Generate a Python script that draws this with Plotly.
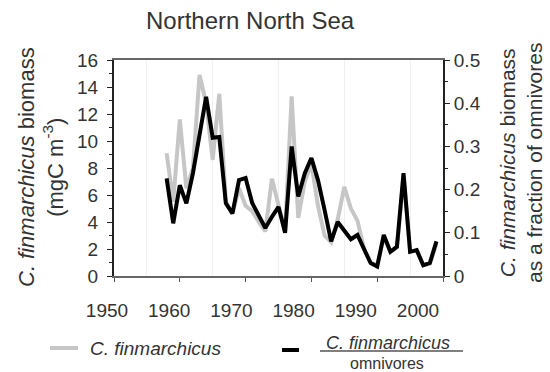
import plotly.graph_objects as go

years = list(range(1958, 2000))
biomass = [9.1, 5.5, 11.6, 6.5, 8.0, 14.9, 12.8, 8.6, 13.5, 5.5,
           4.6, 6.5, 5.2, 4.8, 4.0, 3.3, 7.2, 5.3, 3.3, 13.3,
           4.3, 7.0, 8.3, 5.2, 3.0, 2.5, 4.2, 6.6, 5.0, 4.1,
           2.0, 1.0, 0.8, 2.9, 1.8, 2.1, 7.4, 1.8, 1.9, 0.8,
           0.9, 2.4]
fraction = [0.226, 0.122, 0.210, 0.168, 0.238, 0.330, 0.415, 0.320, 0.322, 0.168,
            0.145, 0.222, 0.227, 0.169, 0.141, 0.111, 0.137, 0.160, 0.100, 0.300,
            0.184, 0.238, 0.273, 0.222, 0.153, 0.080, 0.125, 0.105, 0.085, 0.095,
            0.060, 0.030, 0.022, 0.095, 0.056, 0.068, 0.238, 0.056, 0.060, 0.025,
            0.030, 0.080]
x_ticks = [1950, 1960, 1970, 1980, 1990, 2000]
left_ticks = [0, 2, 4, 6, 8, 10, 12, 14, 16]
right_ticks = [0, 0.1, 0.2, 0.3, 0.4, 0.5]
right_labels = ["0", "0.1", "0.2", "0.3", "0.4", "0.5"]

FONT = "Arial, Liberation Sans, sans-serif"
TXT = "#333"

fig = go.Figure()
fig.add_trace(go.Scatter(x=years, y=biomass, mode="lines",
                         line=dict(color="#c6c6c6", width=4),
                         name="C. finmarchicus", yaxis="y", xaxis="x"))
fig.add_trace(go.Scatter(x=years, y=fraction, mode="lines",
                         line=dict(color="#000000", width=4),
                         name="ratio", yaxis="y2", xaxis="x"))
# invisible trace to carry the label axis
fig.add_trace(go.Scatter(x=[1950, 2000], y=[0, 0], mode="lines",
                         line=dict(width=0), xaxis="x2", yaxis="y",
                         showlegend=False, hoverinfo="skip"))

fig.update_layout(
    width=550, height=372,
    margin=dict(l=114, r=107, t=60, b=96),
    paper_bgcolor="white", plot_bgcolor="white",
    showlegend=False,
    font=dict(family=FONT, color=TXT, size=19),
    xaxis=dict(range=[1950, 2000], tickvals=x_ticks, showticklabels=False,
               ticks="outside", ticklen=4, tickcolor="#555", automargin=False,
               showline=True, linecolor="#666", linewidth=2, mirror=True,
               showgrid=False, zeroline=False,
               minor=dict(tick0=1955, dtick=10, showgrid=True,
                          gridcolor="#f0f0f0", gridwidth=1, ticklen=0)),
    xaxis2=dict(range=[1950, 2002.9], overlaying="x", side="bottom",
                tickvals=x_ticks, showline=False, showgrid=False, automargin=False,
                zeroline=False, ticks="", ticklabelstandoff=21, ticklabelshift=-7,
                tickfont=dict(size=19, color=TXT)),
    yaxis=dict(range=[0, 16], tickvals=left_ticks, ticks="outside",
               ticklen=5, tickcolor="#222", showline=True, linecolor="#222",
               linewidth=2, showgrid=False, zeroline=False, automargin=False,
               ticklabelstandoff=5,
               tickfont=dict(size=19, color=TXT),
               minor=dict(dtick=1, ticks="outside", ticklen=3, tickcolor="#222")),
    yaxis2=dict(range=[0, 0.5], tickvals=right_ticks, ticktext=right_labels,
                overlaying="y", side="right", anchor="x", automargin=False,
                ticks="outside", ticklen=5, tickcolor="#222",
                showline=True, linecolor="#222", linewidth=2,
                showgrid=False, zeroline=False,
                tickfont=dict(size=19, color=TXT),
                minor=dict(dtick=0.05, ticks="outside", ticklen=3, tickcolor="#222")),
)

W, H, L, R, T, B = 550, 372, 114, 107, 60, 96
pw, ph = W - L - R, H - T - B

def px2paper(xp, yp):
    return (xp - L) / pw, (H - B - yp) / ph

# (text, x_px, y_px, size, xanchor, angle)
texts = [
    ("Northern North Sea", 250, 20, 24, "center", 0),
    ("<i>C. finmarchicus</i> biomass<br>(mgC m<sup>-3</sup>)", 41, 167, 22, "center", -90),
    ("<i>C. finmarchicus</i> biomass<br>as a fraction of omnivores", 521, 163, 21, "center", -90),
    ("<i>C. finmarchicus</i>", 88, 348, 19, "left", 0),
    ("<i>C. finmarchicus</i>", 388, 343, 18, "center", 0),
    ("omnivores", 387, 363, 16, "center", 0),
]
anns = []
for t, xp, yp, sz, xa, ang in texts:
    ax, ay = px2paper(xp, yp)
    anns.append(dict(text=t, x=ax, y=ay, xref="paper", yref="paper",
                     xanchor=xa, yanchor="middle", textangle=ang, showarrow=False,
                     font=dict(size=sz, color=TXT, family=FONT)))
fig.update_layout(annotations=anns)

shapes = []
for (x0, x1, yy, col) in [(50, 78, 348, "#c6c6c6"), (282, 299, 350, "#000000")]:
    a0, b0 = px2paper(x0, yy)
    a1, b1 = px2paper(x1, yy)
    shapes.append(dict(type="line", xref="paper", yref="paper", x0=a0, x1=a1,
                       y0=b0, y1=b1, line=dict(color=col, width=4)))
f0, g0 = px2paper(320, 351)
f1, g1 = px2paper(463, 351)
shapes.append(dict(type="line", xref="paper", yref="paper", x0=f0, x1=f1,
                   y0=g0, y1=g1, line=dict(color="#555", width=1.5)))
fig.update_layout(shapes=shapes)

fig.write_html("out.html", config={"displayModeBar": False},
               post_script=["document.body.style.margin='0';"
                            "document.body.style.overflow='hidden';"])
